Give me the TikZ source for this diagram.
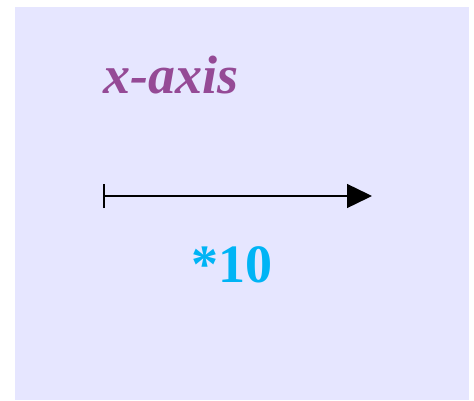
\documentclass[tikz,border=0pt]{standalone}
\usepackage{fontspec}
\setmainfont{Liberation Serif}
\usepackage{xcolor}
\definecolor{axband}{HTML}{E6E6FF}
\definecolor{axpurple}{HTML}{954A96}
\definecolor{axcyan}{HTML}{00B4F5}
\usepackage{tikz}
\usetikzlibrary{arrows.meta,positioning}

\begin{document}
\begin{tikzpicture}[x=1pt,y=1pt,
  axlabel/.style={font=\fontsize{54}{60}\selectfont\bfseries\itshape, text=axpurple, inner sep=0pt},
  factor/.style={font=\fontsize{54}{60}\selectfont\bfseries, text=axcyan, inner sep=0pt},
  axline/.style={line width=1.4pt, {Bar[width=24pt,line width=2pt]}-{Triangle[length=25pt,width=24pt]}}]
\useasboundingbox (0,0) rectangle (474,400);
\fill[axband] (15,0) rectangle (469,393);
\node[axlabel, anchor=base west] (title) at (103,307) {x-axis};
\coordinate (from) at (103,204);
\coordinate (to) at (372,204);
\draw[axline] (from) -- (to);
\node[factor, anchor=base] (scale) at (232,118) {*10};
\end{tikzpicture}
\end{document}
